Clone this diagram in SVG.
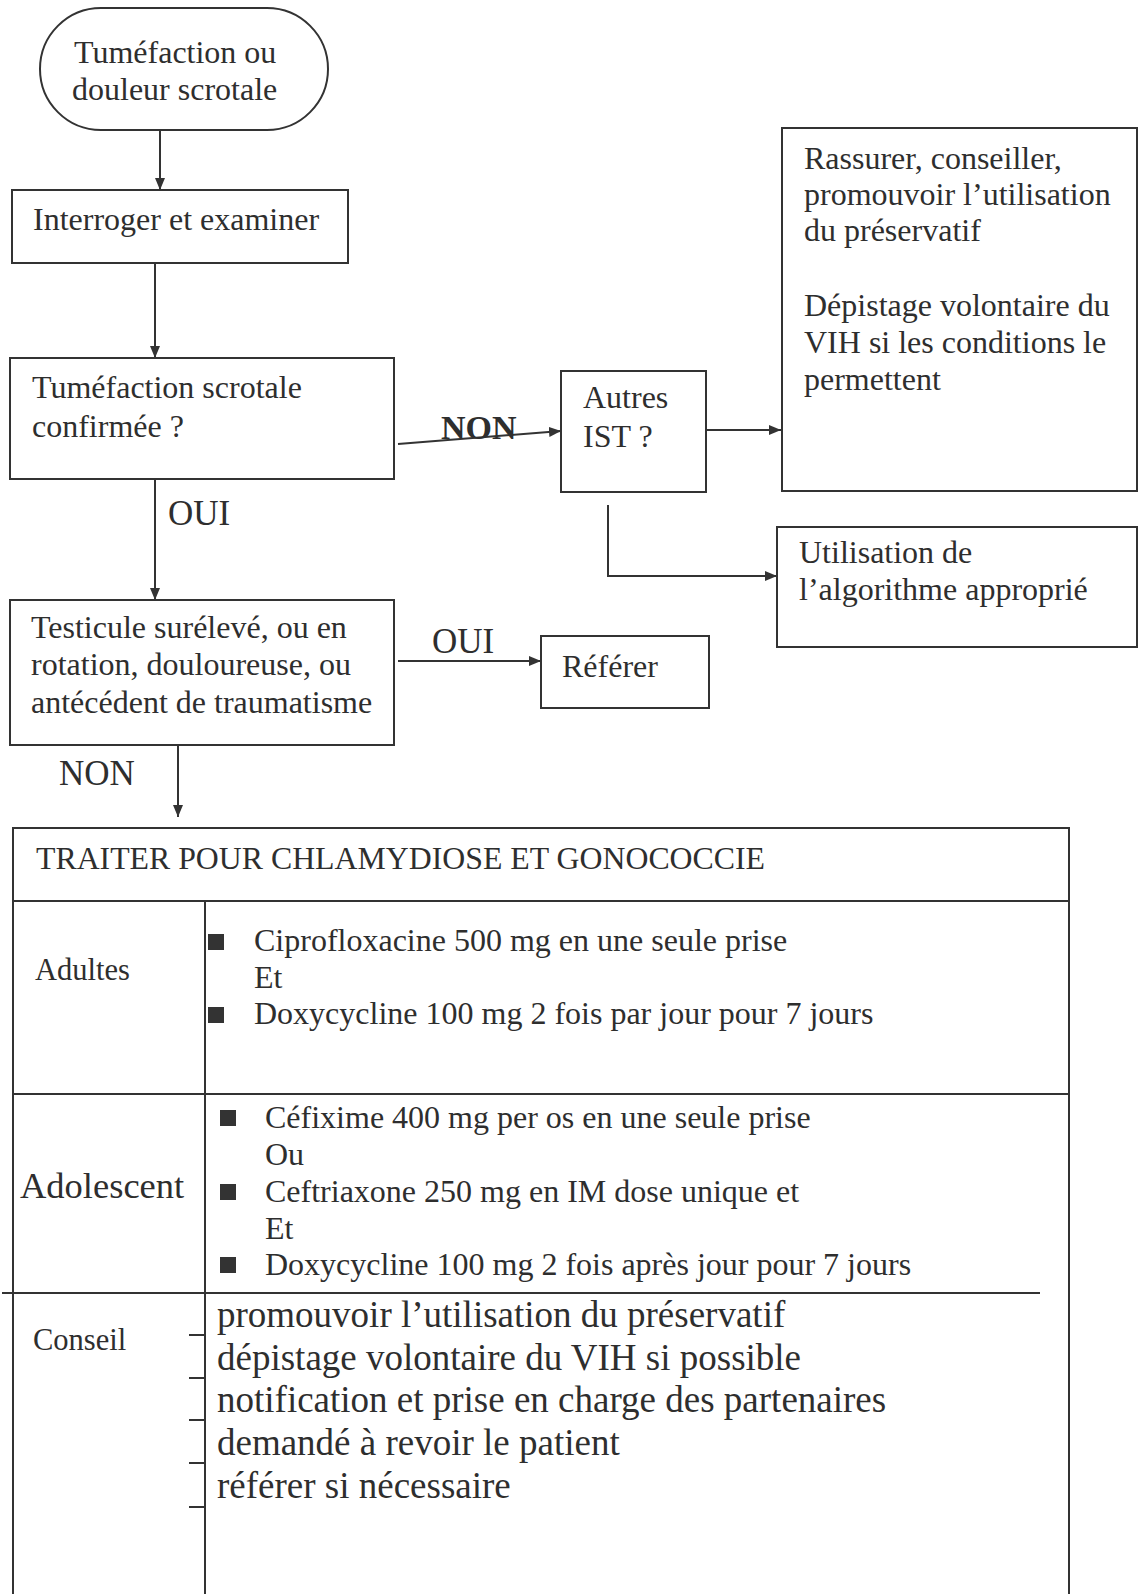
<svg xmlns="http://www.w3.org/2000/svg" width="1139" height="1594" viewBox="0 0 1139 1594">
  <style>
    text { font-family: "Liberation Serif", "Times New Roman", serif; fill: #2e2e2e; }
    .t { font-size: 32px; }
    .lbl { font-size: 35px; }
    .bold { font-weight: bold; font-size: 34px; }
    .th { font-size: 31.8px; }
    .td { font-size: 32px; }
    .side { font-size: 30.5px; }
    .big { font-size: 36.5px; }
    .adv { font-size: 37px; }
    .box { fill: #fff; stroke: #333; stroke-width: 2; }
    .line { fill: none; stroke: #333; stroke-width: 2; }
    .edge { fill: none; stroke: #333; stroke-width: 2; marker-end: url(#arrow); }
    .bullet { fill: #333; }
  </style>
  <defs>
    <marker id="arrow" markerUnits="userSpaceOnUse" markerWidth="12" markerHeight="10" refX="12" refY="5" orient="auto">
      <path d="M0,0 L12,5 L0,10 z" fill="#333"/>
    </marker>
  </defs>
  <rect width="1139" height="1594" fill="#fff"/>

  <!-- connectors -->
  <g id="connectors">
    <line class="edge" x1="160" y1="130" x2="160" y2="190"/>
    <line class="edge" x1="155" y1="263" x2="155" y2="358"/>
    <line class="edge" x1="398" y1="444" x2="561" y2="431"/>
    <line class="edge" x1="706" y1="430" x2="781" y2="430"/>
    <polyline class="edge" points="608,505 608,576 777,576"/>
    <line class="edge" x1="155" y1="479" x2="155" y2="600"/>
    <line class="edge" x1="398" y1="661" x2="541" y2="661"/>
    <line class="edge" x1="178" y1="745" x2="178" y2="817"/>
    <text class="bold" x="441" y="439">NON</text>
    <text class="lbl" x="168" y="525">OUI</text>
    <text class="lbl" x="432" y="653">OUI</text>
    <text class="lbl" x="59" y="785">NON</text>
  </g>

  <!-- flowchart nodes -->
  <g id="start">
    <rect class="box" x="40" y="8" width="288" height="122" rx="61" ry="61"/>
    <text class="t" x="74" y="63">Tuméfaction ou</text>
    <text class="t" x="72" y="100">douleur scrotale</text>
  </g>
  <g id="interroger">
    <rect class="box" x="12" y="190" width="336" height="73"/>
    <text class="t" x="33" y="230">Interroger et examiner</text>
  </g>
  <g id="tumefaction">
    <rect class="box" x="10" y="358" width="384" height="121"/>
    <text class="t" x="32" y="398">Tuméfaction scrotale</text>
    <text class="t" x="32" y="437">confirmée ?</text>
  </g>
  <g id="autres-ist">
    <rect class="box" x="561" y="371" width="145" height="121"/>
    <text class="t" x="583" y="408">Autres</text>
    <text class="t" x="583" y="447">IST ?</text>
  </g>
  <g id="rassurer">
    <rect class="box" x="782" y="128" width="355" height="363"/>
    <text class="t" x="804" y="169">Rassurer, conseiller,</text>
    <text class="t" x="804" y="205">promouvoir l’utilisation</text>
    <text class="t" x="804" y="241">du préservatif</text>
    <text class="t" x="804" y="316">Dépistage volontaire du</text>
    <text class="t" x="804" y="353">VIH si les conditions le</text>
    <text class="t" x="804" y="390">permettent</text>
  </g>
  <g id="algorithme">
    <rect class="box" x="777" y="527" width="360" height="120"/>
    <text class="t" x="799" y="563">Utilisation de</text>
    <text class="t" x="799" y="600">l’algorithme approprié</text>
  </g>
  <g id="testicule">
    <rect class="box" x="10" y="600" width="384" height="145"/>
    <text class="t" x="31" y="638">Testicule surélevé, ou en</text>
    <text class="t" x="31" y="675">rotation, douloureuse, ou</text>
    <text class="t" x="31" y="713">antécédent de traumatisme</text>
  </g>
  <g id="referer">
    <rect class="box" x="541" y="636" width="168" height="72"/>
    <text class="t" x="562" y="677">Référer</text>
  </g>

  <!-- treatment table -->
  <g id="traitement">
    <polyline class="line" points="13,1594 13,828 1069,828 1069,1594"/>
    <line class="line" x1="13" y1="901" x2="1069" y2="901"/>
    <line class="line" x1="205" y1="901" x2="205" y2="1594"/>
    <line class="line" x1="13" y1="1094" x2="1069" y2="1094"/>
    <line class="line" x1="2" y1="1293" x2="1040" y2="1293" stroke-width="2.5"/>
    <text class="th" x="36" y="869">TRAITER POUR CHLAMYDIOSE ET GONOCOCCIE</text>

    <text class="side" x="35" y="980">Adultes</text>
    <rect class="bullet" x="208" y="934" width="16" height="16"/>
    <text class="td" x="254" y="951">Ciprofloxacine 500 mg en une seule prise</text>
    <text class="td" x="254" y="988">Et</text>
    <rect class="bullet" x="208" y="1007" width="16" height="16"/>
    <text class="td" x="254" y="1024">Doxycycline 100 mg 2 fois par jour pour 7 jours</text>

    <text class="big" x="20" y="1198">Adolescent</text>
    <rect class="bullet" x="220" y="1110" width="16" height="16"/>
    <text class="td" x="265" y="1128">Céfixime 400 mg per os en une seule prise</text>
    <text class="td" x="265" y="1165">Ou</text>
    <rect class="bullet" x="220" y="1184" width="16" height="16"/>
    <text class="td" x="265" y="1202">Ceftriaxone 250 mg en IM dose unique  et</text>
    <text class="td" x="265" y="1239">Et</text>
    <rect class="bullet" x="220" y="1257" width="16" height="16"/>
    <text class="td" x="265" y="1275">Doxycycline 100 mg 2 fois après jour pour 7 jours</text>

    <text class="side" x="33" y="1350">Conseil</text>
    <g class="line">
      <line x1="189" y1="1335" x2="205" y2="1335"/>
      <line x1="189" y1="1378" x2="205" y2="1378"/>
      <line x1="189" y1="1420" x2="205" y2="1420"/>
      <line x1="189" y1="1463" x2="205" y2="1463"/>
      <line x1="189" y1="1507" x2="205" y2="1507"/>
    </g>
    <text class="adv" x="217" y="1327">promouvoir l’utilisation du préservatif</text>
    <text class="adv" x="217" y="1370">dépistage volontaire du VIH si possible</text>
    <text class="adv" x="217" y="1412">notification et prise en charge des partenaires</text>
    <text class="adv" x="217" y="1455">demandé à revoir le patient</text>
    <text class="adv" x="217" y="1498">référer si nécessaire</text>
  </g>
</svg>
